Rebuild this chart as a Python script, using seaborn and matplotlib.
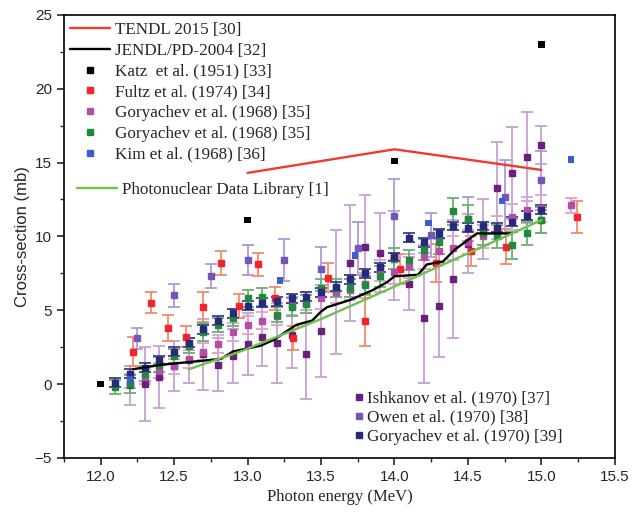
import numpy as np
import matplotlib
matplotlib.use("Agg")
import matplotlib.pyplot as plt
from matplotlib.lines import Line2D
from matplotlib.ticker import MultipleLocator
import seaborn as sns

# evaluated curves
tendl_x = [13.0, 14.0, 15.0]
tendl_y = [14.3, 15.9, 14.5]

jendl_x = [12.22, 12.41, 12.82, 12.90, 13.09, 13.18, 13.33, 13.44, 13.50, 13.54, 13.70,
           13.86, 13.95, 14.00, 14.16, 14.22, 14.33, 14.41, 14.56, 14.80]
jendl_y = [1.0, 1.3, 1.7, 2.2, 2.6, 3.0, 4.0, 4.3, 4.9, 5.2, 5.7,
           6.4, 6.9, 7.3, 7.4, 8.1, 8.3, 9.1, 10.2, 10.2]

pdl_x = [12.6, 12.95, 13.5, 14.0, 14.31, 15.0]
pdl_y = [1.0, 2.2, 4.4, 6.6, 8.0, 11.1]

# experimental data
katz_x = [12.0, 13.0, 14.0, 15.0]
katz_y = [0.0, 11.1, 15.1, 23.0]

fultz_x = [12.22, 12.34, 12.46, 12.58, 12.70, 12.82, 12.94, 13.07, 13.19, 13.31, 13.55,
           13.80, 14.04, 14.28, 14.52, 14.76, 15.0, 15.24]
fultz_y = [2.2, 5.5, 3.8, 3.2, 5.2, 8.2, 5.3, 8.1, 5.8, 3.1, 7.2,
           4.3, 7.8, 8.2, 9.0, 9.3, 11.1, 11.3]
fultz_err = [1.0, 0.7, 0.9, 0.7, 1.0, 0.8, 0.8, 0.8, 0.8, 0.8, 1.0,
             1.7, 1.0, 1.3, 1.0, 1.2, 0.9, 1.1]

gor68a_x = [12.2, 12.3, 12.4, 12.5, 12.6, 12.7, 12.8, 12.9, 13.0, 13.1, 13.2, 13.3, 13.4, 13.5, 13.6,
            13.7, 13.8, 13.9, 14.0, 14.1, 14.2, 14.3, 14.4, 14.5, 14.6, 14.7, 14.8, 14.9, 15.0, 15.2]
gor68a_y = [0.2, 0.5, 0.9, 1.2, 1.7, 2.2, 2.7, 3.5, 4.0, 4.3, 4.6, 5.3, 5.5, 5.8, 6.2,
            6.4, 6.8, 7.7, 7.6, 8.0, 8.6, 9.0, 9.2, 9.6, 10.0, 10.6, 11.3, 11.8, 11.9, 12.1]
gor68a_err = [0.5, 0.5, 0.5, 0.5, 0.6, 0.6, 0.6, 0.6, 0.6, 0.6, 0.6, 0.6, 0.7, 0.7, 0.7,
              0.7, 0.7, 0.7, 0.8, 0.8, 0.8, 0.8, 0.8, 0.8, 0.8, 0.8, 0.9, 0.9, 0.9, 0.5]

gor68b_x = [12.1, 12.2, 12.3, 12.4, 12.5, 12.6, 12.7, 12.8, 12.9, 13.0, 13.1, 13.2, 13.3, 13.4, 13.5,
            13.6, 13.7, 13.8, 13.9, 14.0, 14.1, 14.2, 14.3, 14.4, 14.5, 14.6, 14.7, 14.8, 14.9, 15.0]
gor68b_y = [-0.2, 0.0, 0.7, 1.3, 1.9, 2.6, 3.5, 4.0, 4.5, 5.8, 5.9, 4.7, 5.2, 5.4, 6.5,
            6.5, 6.5, 6.7, 7.3, 8.5, 8.4, 9.1, 9.6, 11.7, 11.2, 10.2, 10.0, 9.4, 10.2, 11.1]
gor68b_err = [0.5, 0.6, 0.5, 0.5, 0.5, 0.5, 0.6, 0.5, 0.6, 0.6, 0.6, 0.5, 0.6, 0.6, 0.6,
              0.6, 0.6, 0.6, 0.7, 0.7, 0.7, 0.7, 0.8, 0.9, 0.9, 0.8, 0.8, 0.9, 0.8, 0.9]

kim_x = [12.2, 13.22, 13.73, 14.23, 14.73, 15.2]
kim_y = [0.3, 7.0, 8.7, 10.9, 12.4, 15.2]

ishk_x = [12.2, 12.3, 12.4, 12.5, 12.6, 12.7, 12.8, 12.9, 13.0, 13.1, 13.2, 13.3, 13.4, 13.5, 13.6,
          13.7, 13.8, 13.9, 14.0, 14.1, 14.2, 14.3, 14.4, 14.5, 14.6, 14.7, 14.8, 14.9, 15.0]
ishk_y = [-0.1, 0.0, 0.5, 1.2, 1.6, 2.0, 1.3, 1.9, 2.7, 3.2, 2.8, 3.3, 2.0, 3.6, 6.2,
          8.2, 9.3, 8.9, 8.7, 6.8, 4.5, 5.3, 7.1, 9.5, 10.5, 13.3, 14.3, 15.4, 16.2]
ishk_err = [1.3, 2.5, 2.1, 1.7, 1.5, 2.4, 1.8, 1.8, 2.1, 2.0, 2.7, 2.2, 3.0, 3.1, 4.2,
            3.9, 3.5, 2.7, 3.0, 1.8, 4.4, 3.5, 4.0, 2.0, 2.0, 3.1, 3.1, 3.0, 1.3]

owen_x = [12.25, 12.5, 12.75, 13.0, 13.25, 13.5, 13.75, 14.0, 14.25, 14.5, 14.75, 15.0]
owen_y = [3.1, 6.0, 7.3, 8.4, 8.4, 7.8, 9.2, 11.4, 10.1, 11.2, 12.7, 13.8]
owen_err = [0.7, 0.8, 0.8, 1.0, 1.4, 1.5, 1.8, 2.5, 1.5, 1.5, 2.5, 2.0]

gor70_x = [12.1, 12.2, 12.3, 12.4, 12.5, 12.6, 12.7, 12.8, 12.9, 13.0, 13.1, 13.2, 13.3, 13.4, 13.5,
           13.6, 13.7, 13.8, 13.9, 14.0, 14.1, 14.2, 14.3, 14.4, 14.5, 14.6, 14.7, 14.8, 14.9, 15.0]
gor70_y = [0.1, 0.7, 1.1, 1.6, 2.2, 2.8, 3.7, 4.3, 4.8, 5.3, 5.5, 5.6, 5.8, 5.9, 6.2,
           6.6, 7.1, 7.5, 7.9, 8.6, 9.9, 9.6, 10.2, 10.7, 10.6, 10.7, 10.6, 11.0, 11.4, 11.8]
gor70_err = [0.3] * len(gor70_x)

sns.set_theme(style="ticks")
plt.rcParams['font.family'] = ['Liberation Sans', 'DejaVu Sans']
serif = ['Liberation Serif', 'DejaVu Serif']

fig, ax = plt.subplots(figsize=(6.32, 5.15), dpi=100)
fig.subplots_adjust(left=0.101, right=0.973, bottom=0.111, top=0.971)

def points(x, y, err, c, ec):
    ax.errorbar(x, y, yerr=err, fmt='s', ms=4.5, color=c, ecolor=ec, elinewidth=1.3,
                capsize=4.5, capthick=1.3, zorder=3)

points(ishk_x, ishk_y, ishk_err, '#6b1f7c', '#c7a0d6')
points(owen_x, owen_y, owen_err, '#7456b8', '#ae98dc')
points(fultz_x, fultz_y, fultz_err, '#f3232a', '#f48a6a')
points(gor68a_x, gor68a_y, gor68a_err, '#b54da6', '#dca2d2')
points(gor68b_x, gor68b_y, gor68b_err, '#1f8a3c', '#6ab070')
points(gor70_x, gor70_y, gor70_err, '#262a78', '#3c3f8c')

sns.scatterplot(x=kim_x, y=kim_y, marker='s', s=22, color='#3a5fc8', edgecolor='none', ax=ax, zorder=4)
sns.scatterplot(x=katz_x, y=katz_y, marker='s', s=22, color='black', edgecolor='none', ax=ax, zorder=4)

sns.lineplot(x=tendl_x, y=tendl_y, color='#f03a30', lw=1.7, estimator=None, ax=ax, zorder=5)
sns.lineplot(x=jendl_x, y=jendl_y, color='black', lw=1.7, estimator=None, ax=ax, zorder=5)
sns.lineplot(x=pdl_x, y=pdl_y, color='#6cc24a', lw=1.7, estimator=None, ax=ax, zorder=5)

ax.set_xlim(11.75, 15.5)
ax.set_ylim(-5, 25)
ax.xaxis.set_major_locator(MultipleLocator(0.5))
ax.xaxis.set_minor_locator(MultipleLocator(0.25))
ax.yaxis.set_major_locator(MultipleLocator(5))
ax.yaxis.set_minor_locator(MultipleLocator(2.5))
ax.tick_params(which='major', length=5, width=1.2, labelsize=11, direction='out')
ax.tick_params(which='minor', length=3, width=1.0, direction='out')
ax.tick_params(top=False, right=False, which='both')
ax.xaxis.set_major_formatter(matplotlib.ticker.FormatStrFormatter('%.1f'))
for s in ax.spines.values():
    s.set_visible(True)
    s.set_linewidth(1.2)
    s.set_color('black')

ax.set_xlabel('Photon energy (MeV)', family=serif, fontsize=12)
ax.set_ylabel('Cross-section (mb)', fontsize=12, labelpad=3)

def mk(c):
    return Line2D([], [], marker='s', ls='', ms=4, color=c)

lfont = {'family': serif, 'size': 12.3}
h1 = [Line2D([], [], color='#f03a30', lw=1.7), Line2D([], [], color='black', lw=1.7),
      mk('black'), mk('#f3232a'), mk('#b54da6'), mk('#1f8a3c'), mk('#3a5fc8')]
l1 = ['TENDL 2015 [30]', 'JENDL/PD-2004 [32]', 'Katz  et al. (1951) [33]', 'Fultz et al. (1974) [34]',
      'Goryachev et al. (1968) [35]', 'Goryachev et al. (1968) [35]', 'Kim et al. (1968) [36]']
leg1 = ax.legend(h1, l1, loc='upper left', bbox_to_anchor=(-0.005, 1.005), frameon=False,
                 prop=lfont, handlelength=2.3, handletextpad=0.3, labelspacing=0.28,
                 borderaxespad=0.15)
ax.add_artist(leg1)
leg2 = ax.legend([Line2D([], [], color='#6cc24a', lw=1.7)], ['Photonuclear Data Library [1]'],
                 loc='upper left', bbox_to_anchor=(0.012, 0.638), frameon=False,
                 prop=lfont, handlelength=2.3, handletextpad=0.3, borderaxespad=0)
ax.add_artist(leg2)
h3 = [mk('#6b1f7c'), mk('#7456b8'), mk('#262a78')]
l3 = ['Ishkanov et al. (1970) [37]', 'Owen et al. (1970) [38]', 'Goryachev et al. (1970) [39]']
ax.legend(h3, l3, loc='upper left', bbox_to_anchor=(0.515, 0.167), frameon=False,
          prop=lfont, handlelength=0.5, handletextpad=0.25,
          labelspacing=0.18, borderaxespad=0)

fig.savefig('out.png', dpi=100)
